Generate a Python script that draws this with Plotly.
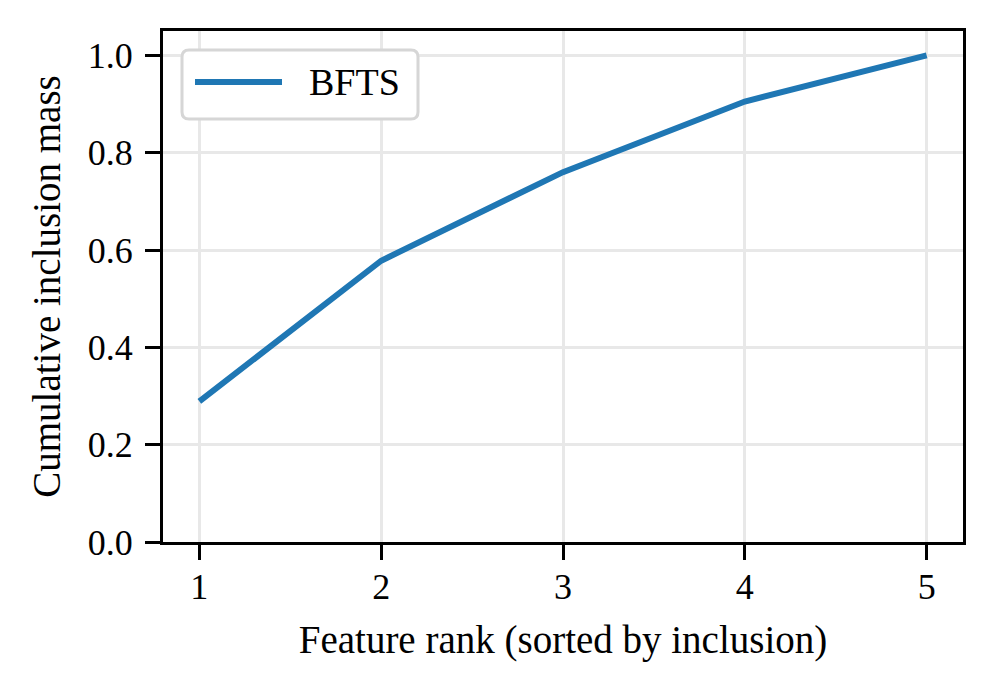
import plotly.graph_objects as go

ranks = [1, 2, 3, 4, 5]
cum_mass = [0.289, 0.578, 0.760, 0.905, 1.0]
series_name = "BFTS"
x_title = "Feature rank (sorted by inclusion)"
y_title = "Cumulative inclusion mass"
y_ticks = [0.0, 0.2, 0.4, 0.6, 0.8, 1.0]

FONT = "Liberation Serif"
LINE_COLOR = "#1f77b4"
LINE_W = 6

fig = go.Figure()
fig.add_trace(go.Scatter(x=ranks, y=cum_mass, mode="lines", name=series_name,
                         line=dict(color=LINE_COLOR, width=LINE_W), showlegend=False))

# plot area in page px: x 163..963, y 31..542 (800 x 511)
def px_x(p):
    return (p - 163) / 800.0

def px_y(p):
    return (542 - p) / 511.0

# rounded legend frame
x0, x1, y0, y1 = px_x(182), px_x(418), px_y(119), px_y(50)
rx, ry = 7 / 800.0, 7 / 511.0
path = (f"M {x0+rx},{y0} L {x1-rx},{y0} Q {x1},{y0} {x1},{y0+ry} "
        f"L {x1},{y1-ry} Q {x1},{y1} {x1-rx},{y1} L {x0+rx},{y1} "
        f"Q {x0},{y1} {x0},{y1-ry} L {x0},{y0+ry} Q {x0},{y0} {x0+rx},{y0} Z")
fig.add_shape(type="path", path=path, xref="paper", yref="paper",
              fillcolor="white", line=dict(color="#d6d6d6", width=3), layer="above")
# legend sample line + label
fig.add_shape(type="line", xref="paper", yref="paper",
              x0=px_x(195), x1=px_x(282), y0=px_y(82), y1=px_y(82),
              line=dict(color=LINE_COLOR, width=LINE_W), layer="above")
fig.add_annotation(text=series_name, xref="paper", yref="paper",
                   x=px_x(307), y=px_y(82), xanchor="left", yanchor="middle",
                   showarrow=False, font=dict(family=FONT, size=38, color="black"))

axis_common = dict(showline=True, linecolor="black", linewidth=3, mirror=True,
                   ticks="outside", ticklen=15, tickwidth=3, tickcolor="black",
                   showgrid=True, gridcolor="#e8e8e8", gridwidth=3,
                   zeroline=False, tickfont=dict(family=FONT, size=36, color="black"))

fig.update_xaxes(range=[0.8, 5.2], tickvals=ranks, ticktext=[str(r) for r in ranks],
                 ticklabelstandoff=-4,
                 title=dict(text=x_title, font=dict(family=FONT, size=39, color="black"), standoff=20),
                 **axis_common)
fig.update_yaxes(range=[0, 1.05], tickvals=y_ticks, ticktext=[f"{v:.1f}" for v in y_ticks],
                 ticklabelstandoff=5,
                 title=dict(text=y_title, font=dict(family=FONT, size=39, color="black"), standoff=16),
                 **axis_common)

# page is offset by an 8px body margin, so the figure is 8px smaller
fig.update_layout(
    width=987, height=685,
    margin=dict(l=155, r=32, t=23, b=151),
    plot_bgcolor="white", paper_bgcolor="white",
    showlegend=False,
)

fig.write_html("out.html")
